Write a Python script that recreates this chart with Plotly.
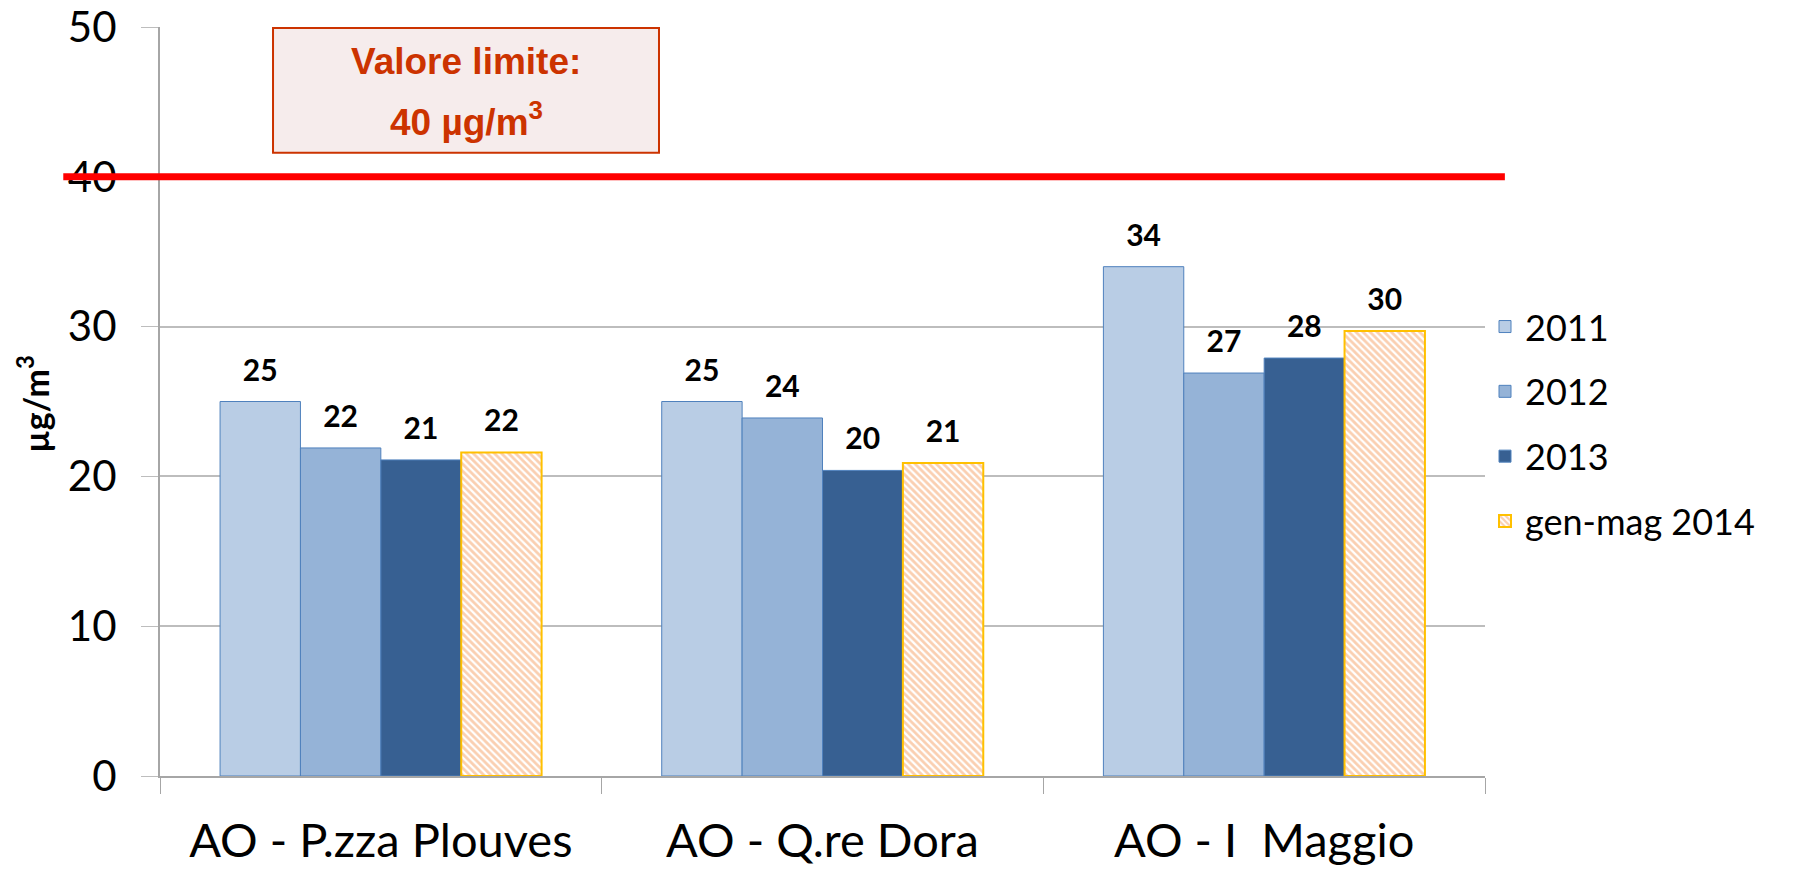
import plotly.graph_objects as go

stazioni = ["AO - P.zza Plouves", "AO - Q.re Dora", "AO - I  Maggio"]
anni = ["2011", "2012", "2013", "gen-mag 2014"]
valori = {
    "2011": [25.0, 25.0, 34.0],
    "2012": [21.9, 23.9, 26.9],
    "2013": [21.1, 20.4, 27.9],
    "gen-mag 2014": [21.6, 20.9, 29.7],
}
limite = 40

colori = {"2011": "#B9CDE5", "2012": "#95B3D7", "2013": "#376092"}
font = "Lato"

fig = go.Figure()
for anno in anni:
    if anno == "gen-mag 2014":
        marker = dict(color="white", line=dict(color="#FFC000", width=2),
                      pattern=dict(shape="\\", fgcolor="#F5A064", bgcolor="white",
                                   size=5, solidity=0.55))
    else:
        marker = dict(color=colori[anno], line=dict(color="#4F81BD", width=1))
    fig.add_trace(go.Bar(x=stazioni, y=valori[anno], name=anno, marker=marker,
                         offsetgroup=anno, legendgroup=anno))

# etichette valori sopra le barre
for anno in anni:
    fig.add_trace(go.Scatter(
        x=stazioni, y=valori[anno], mode="markers+text", offsetgroup=anno,
        text=[f"{v:.0f}" for v in valori[anno]], textposition="top center",
        marker=dict(size=20, opacity=0), showlegend=False, hoverinfo="skip",
        cliponaxis=False,
        textfont=dict(family=font, size=30, color="black", weight="bold"),
    ))

# linea valore limite
fig.add_shape(type="line", xref="paper", yref="y", x0=-0.073, x1=1.015,
              y0=limite, y1=limite, line=dict(color="#FF0000", width=7), layer="above")

# riquadro valore limite
fig.add_shape(type="rect", xref="paper", yref="paper", x0=0.0853, x1=0.3766,
              y0=0.832, y1=0.9987, line=dict(color="#CC3300", width=2),
              fillcolor="#F6ECEC", layer="above")
box_font = dict(family="Liberation Sans", size=37, color="#CC3300", weight="bold")
fig.add_annotation(xref="paper", yref="paper", x=0.231, y=0.954, showarrow=False,
                   xanchor="center", yanchor="middle",
                   text="Valore limite:", font=box_font)
fig.add_annotation(xref="paper", yref="paper", x=0.231, y=0.8765, showarrow=False,
                   xanchor="center", yanchor="middle",
                   text="40 µg/m<sup>3</sup>", font=box_font)

# titolo asse y
fig.add_annotation(xref="paper", yref="paper", x=-0.0958, y=0.497, showarrow=False,
                   xanchor="center", yanchor="middle",
                   text="µg/m<sup>3</sup>", textangle=-90,
                   font=dict(family=font, size=34, color="black", weight="bold"))

fig.update_layout(
    width=1794, height=872,
    margin=dict(l=152, r=317, t=19, b=104),
    plot_bgcolor="white", paper_bgcolor="white",
    barmode="group", bargap=0.272, bargroupgap=0,
    scattermode="group", scattergap=0.272,
    font=dict(family=font, color="black"),
    legend=dict(x=1.0, y=0.64, xanchor="left", yanchor="top",
                font=dict(size=36), tracegroupgap=15),
    showlegend=True,
)
fig.update_xaxes(
    automargin=False,
    ticks="outside", tickson="boundaries", ticklen=16, tickcolor="#A6A6A6",
    showline=True, linecolor="#A6A6A6", linewidth=2,
    tickfont=dict(size=47, family=font), ticklabelstandoff=23,
)
fig.update_yaxes(
    automargin=False, ticklabeloverflow="allow",
    range=[0, 50], dtick=10, showgrid=True, gridcolor="#BDBDBD", gridwidth=1.5,
    ticks="outside", ticklen=17, tickcolor="#BDBDBD",
    showline=True, linecolor="#A6A6A6", linewidth=2, zeroline=False,
    tickfont=dict(size=42, family=font), ticklabelstandoff=16,
)

fig.write_html("out.html")
